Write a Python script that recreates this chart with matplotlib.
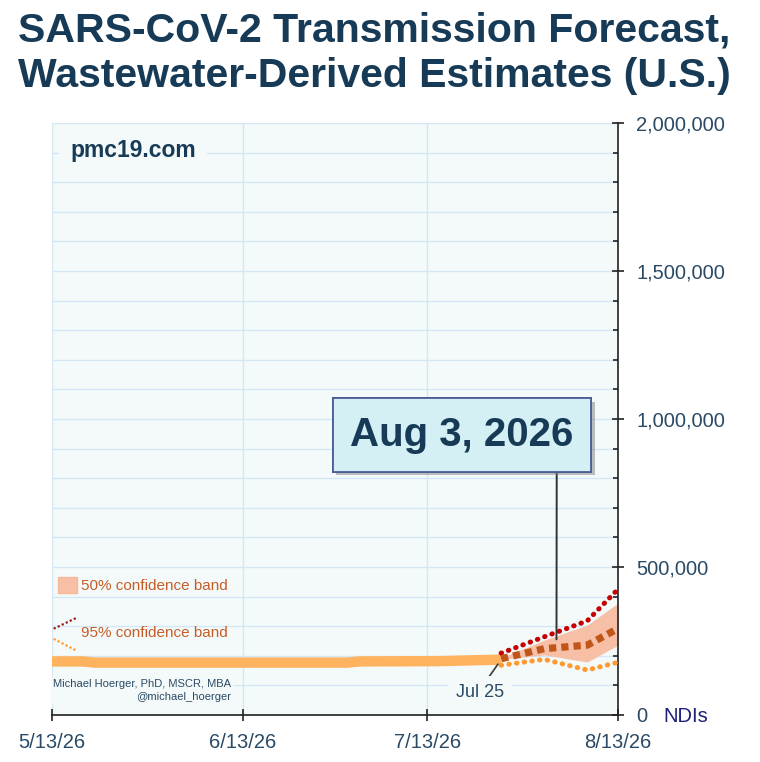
import matplotlib
matplotlib.use("Agg")
import matplotlib.pyplot as plt
import matplotlib.dates as mdates
import matplotlib.patheffects as pe
import matplotlib.transforms as mtransforms
import numpy as np
from matplotlib.legend_handler import HandlerBase
from matplotlib.lines import Line2D
from matplotlib.patches import Patch, Rectangle
from matplotlib.ticker import MultipleLocator, StrMethodFormatter

plt.rcParams['font.family'] = ['Liberation Sans', 'DejaVu Sans']

# ==========================================
# DATA
# ==========================================

hist_dates = ['2026-05-13', '2026-05-18', '2026-05-20', '2026-06-30',
              '2026-07-02', '2026-07-15', '2026-07-25']
hist_ndi = [181000, 181000, 177000, 177000, 181000, 182000, 187000]

fc_dates = ['2026-07-25', '2026-08-01', '2026-08-08', '2026-08-13']
fc_median = [190000, 224000, 236000, 292000]
fc_q25 = [188000, 203000, 179000, 236000]
fc_q75 = [193000, 253000, 304000, 378000]
fc_lo95 = [168000, 188000, 152000, 178000]
fc_hi95 = [209000, 264000, 318000, 425000]

x_ticks = ['2026-05-13', '2026-06-13', '2026-07-13', '2026-08-13']
x_tick_labels = ['5/13/26', '6/13/26', '7/13/26', '8/13/26']

title_lines = ['SARS-CoV-2 Transmission Forecast,',
               'Wastewater-Derived Estimates (U.S.)']
callout_date = '2026-08-03'
callout_text = 'Aug 3, 2026'

# ==========================================
# COLOURS
# ==========================================

NAVY = '#173B57'
TXT = '#2B4A66'
BG = '#F4FAF9'
GRID = '#D3E8F4'
HIST = '#FFB35F'
MED = '#C0561C'
BAND = '#F7C0A6'
RED = '#C40000'
ORANGE = '#FF9A30'
LEG = '#C65D28'

hx = np.array(hist_dates, dtype='datetime64[D]')
fx = np.array(fc_dates, dtype='datetime64[D]')
tx = np.array(x_ticks, dtype='datetime64[D]')

fig = plt.figure(figsize=(7.6, 7.62), dpi=100)
ax = fig.add_axes([52 / 760, 47 / 762, 566 / 760, 592 / 762])
ax.set_facecolor(BG)

for i, line in enumerate(title_lines):
    fig.text(18 / 760, 1 - (42 + 45 * i) / 762, line, ha='left', va='baseline',
             fontsize=29.5, fontweight='bold', color=NAVY)

# ==========================================
# SERIES
# ==========================================

ax.plot(hx, hist_ndi, color=HIST, lw=7.5, solid_capstyle='butt', zorder=3)
ax.fill_between(fx, fc_q25, fc_q75, color=BAND, lw=0, zorder=2)
ax.plot(fx, fc_hi95, color=RED, lw=3.6, ls=(0, (0.1, 1.45)),
        dash_capstyle='round', zorder=4)
ax.plot(fx, fc_lo95, color=ORANGE, lw=3.6, ls=(0, (0.1, 1.45)),
        dash_capstyle='round', zorder=4)
ax.plot(fx, fc_median, color=MED, lw=5.2, ls=(0, (1, 0.7)), zorder=5)

# ==========================================
# AXES
# ==========================================

ax.set_xlim(tx[0], tx[-1])
ax.set_ylim(0, 2000000)
ax.set_xticks(tx)
ax.set_xticklabels(x_tick_labels)
ax.yaxis.set_major_locator(MultipleLocator(500000))
ax.yaxis.set_minor_locator(MultipleLocator(100000))
ax.yaxis.set_major_formatter(StrMethodFormatter('{x:,.0f}'))
ax.yaxis.tick_right()
ax.grid(which='both', color=GRID, lw=1)
ax.set_axisbelow(True)

for side in ['left', 'top']:
    ax.spines[side].set_visible(False)
for side in ['bottom', 'right']:
    ax.spines[side].set_color('#222222')
    ax.spines[side].set_linewidth(1.2)

ax.tick_params(axis='y', which='major', direction='inout', length=8.5, width=1.2,
               pad=9, labelsize=14.5, labelcolor=TXT, color='#222222')
ax.tick_params(axis='y', which='minor', direction='in', length=3.6, width=1.2,
               color='#222222')
ax.tick_params(axis='x', which='major', direction='inout', length=8.5, width=1.2,
               pad=9, labelsize=14.5, labelcolor=TXT, color='#222222')

ax.text(1.081, 0, 'NDIs', transform=mtransforms.blended_transform_factory(ax.transAxes, ax.transData),
        ha='left', va='center_baseline', fontsize=14.5, color='#1F1F78', clip_on=False)

ax.text(0.032, 0.953, 'pmc19.com', transform=ax.transAxes, ha='left', va='center',
        fontsize=16.5, fontweight='bold', color=NAVY,
        bbox=dict(boxstyle='square,pad=0.5', fc=BG, ec='none'), zorder=6)

ax.text(0.002, 0.0414, 'Michael Hoerger, PhD, MSCR, MBA\n@michael_hoerger',
        transform=ax.transAxes, ha='left', va='center', multialignment='right',
        fontsize=8, color=TXT, linespacing=1.35,
        bbox=dict(boxstyle='square,pad=0.2', fc=BG, ec='none'), zorder=6)

# ==========================================
# ANNOTATIONS
# ==========================================

cx = np.datetime64(callout_date)
cy = np.interp(mdates.date2num(cx), mdates.date2num(fx), fc_median)
ann = ax.annotate(callout_text, xy=(cx, cy), xytext=(-68, 153), textcoords='offset points',
                  ha='center', va='center', fontsize=29, fontweight='bold', color=NAVY,
                  bbox=dict(boxstyle='square,pad=0.44', fc='#D5F0F4', ec='#4E5C96', lw=1.3),
                  arrowprops=dict(arrowstyle='-', color='#333333', lw=1.4,
                                  relpos=(0.924, 0), shrinkA=0, shrinkB=6),
                  zorder=8)
ann.get_bbox_patch().set_path_effects([
    pe.withSimplePatchShadow(offset=(2.5, -2.5), shadow_rgbFace='gray', alpha=0.5),
    pe.Normal()])

ax.annotate('Jul 25', xy=(fx[0], hist_ndi[-1]), xytext=(-15, -24), textcoords='offset points',
            ha='center', va='center', fontsize=13, color=TXT,
            bbox=dict(boxstyle='square,pad=0.45', fc=BG, ec='none'),
            arrowprops=dict(arrowstyle='-', color='#444444', lw=1.3,
                            relpos=(0.57, 1), shrinkA=0, shrinkB=4),
            zorder=7)

# ==========================================
# LEGEND
# ==========================================


class SquareHandler(HandlerBase):
    def create_artists(self, legend, orig_handle, xdescent, ydescent,
                       width, height, fontsize, trans):
        s = 1.2 * fontsize
        yc = -ydescent + height / 2
        r = Rectangle((-xdescent + width - s, yc - s * 0.45), s, s * 0.9,
                      facecolor=BAND, edgecolor='#F9B89A', lw=1, transform=trans)
        return [r]


class BandLinesHandler(HandlerBase):
    def create_artists(self, legend, orig_handle, xdescent, ydescent,
                       width, height, fontsize, trans):
        x0, x1 = -xdescent, -xdescent + width
        yc = -ydescent + height / 2
        up = Line2D([x0, x1], [yc + 0.2 * fontsize, yc + 0.92 * fontsize], color='#9B2020',
                    lw=1.6, ls=(0, (1, 1)), transform=trans)
        dn = Line2D([x0, x1], [yc - 0.46 * fontsize, yc - 1.24 * fontsize], color=ORANGE,
                    lw=1.6, ls=(0, (1, 1)), transform=trans)
        return [up, dn]


h50 = Patch()
h95 = Line2D([], [])
ax.legend([h50, h95], ['50% confidence band', '95% confidence band'],
          handler_map={h50: SquareHandler(), h95: BandLinesHandler()},
          loc='upper left', bbox_to_anchor=(0.003, 0.2415), frameon=False,
          fontsize=11, handlelength=1.5, handleheight=2.2, handletextpad=0.3,
          labelspacing=1.4, borderpad=0, borderaxespad=0, labelcolor=LEG)

fig.savefig('out.png', dpi=100, facecolor='white')
